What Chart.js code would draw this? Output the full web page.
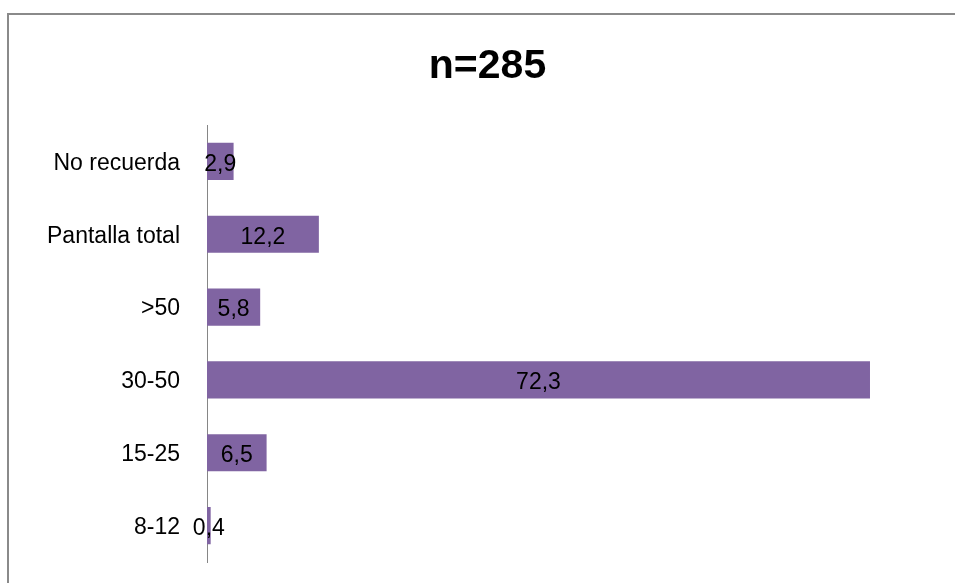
<!DOCTYPE html>
<html>
<head>
<meta charset="utf-8">
<title>n=285</title>
<script src="https://cdn.jsdelivr.net/npm/chart.js@4"></script>
<style>
  html, body { margin: 0; padding: 0; background: #ffffff; }
  #wrap { width: 955px; height: 583px; position: relative; }
</style>
</head>
<body>
<div id="wrap"><canvas id="chart" width="955" height="583"></canvas></div>
<script>
// Categories, top to bottom
const categories = ['No recuerda', 'Pantalla total', '>50', '30-50', '15-25', '8-12'];
// Percentages per category
const percentValues = [2.9, 12.2, 5.8, 72.3, 6.5, 0.4];
const chartTitle = 'n=285';

const FONT = "'Liberation Sans', Arial, sans-serif";

// Outer frame: top and left edges of the chart border
const framePlugin = {
  id: 'frame',
  beforeDraw(chart) {
    const ctx = chart.ctx;
    ctx.save();
    ctx.fillStyle = '#ffffff';
    ctx.fillRect(0, 0, chart.width, chart.height);
    ctx.strokeStyle = '#8a8a8a';
    ctx.lineWidth = 2;
    ctx.beginPath();
    ctx.moveTo(8, chart.height);
    ctx.lineTo(8, 14);
    ctx.lineTo(chart.width, 14);
    ctx.stroke();
    ctx.restore();
  }
};

// Value labels centred inside each bar, with a decimal comma
const valueLabelPlugin = {
  id: 'valueLabels',
  afterDatasetsDraw(chart) {
    const ctx = chart.ctx;
    const meta = chart.getDatasetMeta(0);
    const values = chart.data.datasets[0].data;
    ctx.save();
    ctx.font = '23px ' + FONT;
    ctx.fillStyle = '#000000';
    ctx.textAlign = 'center';
    ctx.textBaseline = 'middle';
    meta.data.forEach((bar, i) => {
      const cx = (bar.x + bar.base) / 2;
      const text = values[i].toFixed(1).replace('.', ',');
      ctx.fillText(text, cx, bar.y + 3);
    });
    ctx.restore();
  }
};

new Chart(document.getElementById('chart'), {
  type: 'bar',
  data: {
    labels: categories,
    datasets: [{
      data: percentValues,
      backgroundColor: '#8064A2',
      borderWidth: 0,
      barPercentage: 0.51,
      categoryPercentage: 1.0
    }]
  },
  options: {
    indexAxis: 'y',
    responsive: false,
    animation: false,
    devicePixelRatio: 1,
    layout: { padding: { left: 34.4, right: 14.4, top: 0, bottom: 21 } },
    plugins: {
      legend: { display: false },
      tooltip: { enabled: false },
      title: {
        display: true,
        text: chartTitle,
        color: '#000000',
        font: { family: FONT, size: 41, weight: 'bold', lineHeight: 1.2 },
        padding: { top: 42, bottom: 33.8 }
      }
    },
    scales: {
      x: {
        display: false,
        min: 0,
        max: 80
      },
      y: {
        afterFit(scale) {
          scale.width = 207 - 34.4;
          // the label gap should not push the plot area up from the bottom
          scale.paddingTop = 0;
          scale.paddingBottom = 0;
        },
        grid: { display: false, drawTicks: false },
        border: { display: true, color: '#868686', width: 1 },
        ticks: {
          color: '#000000',
          padding: 27,
          labelOffset: 2,
          font: { family: FONT, size: 23 }
        }
      }
    }
  },
  plugins: [framePlugin, valueLabelPlugin]
});
</script>
</body>
</html>
